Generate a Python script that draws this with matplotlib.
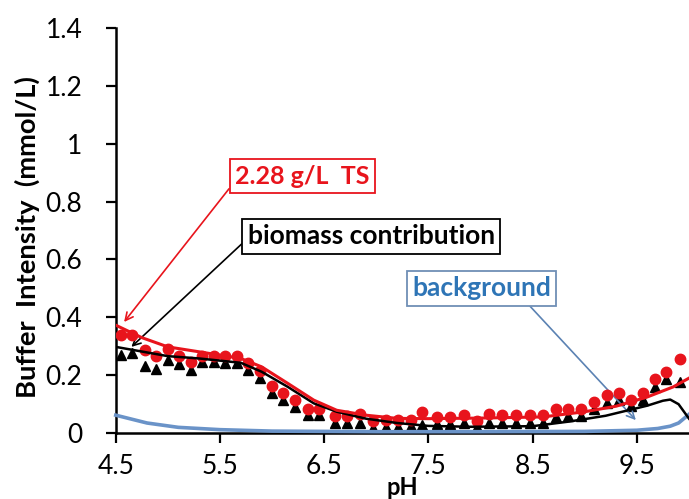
import matplotlib
matplotlib.use("Agg")
import matplotlib.pyplot as plt

# ===== Data =====
ph_pts = [4.55, 4.66, 4.78, 4.89, 5.00, 5.11, 5.22, 5.33, 5.44, 5.55, 5.66, 5.77,
          5.88, 6.00, 6.10, 6.22, 6.34, 6.45, 6.60, 6.72, 6.84, 6.97, 7.09, 7.21,
          7.33, 7.44, 7.58, 7.71, 7.84, 7.97, 8.08, 8.21, 8.34, 8.47, 8.60, 8.72,
          8.84, 8.96, 9.09, 9.21, 9.33, 9.44, 9.56, 9.67, 9.78, 9.91]
ts_meas = [0.340, 0.340, 0.287, 0.267, 0.289, 0.266, 0.245, 0.266, 0.266, 0.266, 0.266, 0.241,
           0.214, 0.162, 0.139, 0.114, 0.085, 0.085, 0.060, 0.060, 0.065, 0.042, 0.045, 0.047,
           0.045, 0.074, 0.056, 0.056, 0.062, 0.042, 0.066, 0.062, 0.062, 0.064, 0.062, 0.082,
           0.085, 0.085, 0.108, 0.131, 0.139, 0.116, 0.137, 0.186, 0.212, 0.255]
bio_meas = [0.270, 0.277, 0.231, 0.223, 0.252, 0.238, 0.218, 0.246, 0.246, 0.244, 0.243, 0.218,
            0.189, 0.139, 0.116, 0.089, 0.062, 0.062, 0.036, 0.036, 0.036, 0.018, 0.020, 0.020,
            0.024, 0.028, 0.031, 0.031, 0.034, 0.020, 0.034, 0.034, 0.034, 0.036, 0.036, 0.056,
            0.058, 0.058, 0.082, 0.103, 0.114, 0.093, 0.114, 0.160, 0.186, 0.177]

ph_ts = [4.5, 4.75, 5.0, 5.3, 5.7, 5.9, 6.15, 6.4, 6.62, 6.9, 7.2, 7.5, 8.0, 8.6,
         9.0, 9.3, 9.6, 9.85, 10.0]
ts_model = [0.373, 0.330, 0.298, 0.281, 0.258, 0.229, 0.172, 0.114, 0.079, 0.062, 0.051,
            0.050, 0.052, 0.056, 0.074, 0.093, 0.125, 0.160, 0.190]

ph_bio = [4.5, 5.0, 5.3, 5.7, 5.9, 6.15, 6.4, 6.62, 6.9, 7.2, 7.5, 7.9, 8.5, 8.85,
          9.2, 9.6, 9.75, 9.82, 9.9, 10.0]
bio_model = [0.298, 0.266, 0.258, 0.243, 0.212, 0.160, 0.103, 0.074, 0.050, 0.035, 0.025,
             0.022, 0.024, 0.040, 0.060, 0.095, 0.112, 0.116, 0.100, 0.050]

ph_bg = [4.5, 4.8, 5.1, 5.5, 6.0, 7.0, 8.0, 9.0, 9.5, 9.7, 9.82, 9.9, 9.95, 10.0]
bg_model = [0.062, 0.035, 0.020, 0.012, 0.007, 0.005, 0.005, 0.006, 0.010, 0.016, 0.024,
            0.035, 0.050, 0.065]

x_ticks = [4.5, 5.5, 6.5, 7.5, 8.5, 9.5]
y_ticks = [0, 0.2, 0.4, 0.6, 0.8, 1.0, 1.2, 1.4]
y_tick_labels = ["0", "0.2", "0.4", "0.6", "0.8", "1", "1.2", "1.4"]

RED = "#e8141c"
BLUE_LINE = "#6a93c8"
BLUE_TEXT = "#2e75b6"

plt.rcParams['font.family'] = ['Lato', 'DejaVu Sans']

fig = plt.figure(figsize=(6.89, 4.99), dpi=100)
ax = fig.add_axes([0.168, 0.132, 0.832, 0.812])

# measured points
ax.plot(ph_pts, bio_meas, linestyle='none', marker='^', ms=7.5, color='black', zorder=3)
ax.plot(ph_pts, ts_meas, linestyle='none', marker='o', ms=7.5, color=RED, zorder=4)

# model lines
ax.plot(ph_bg, bg_model, color=BLUE_LINE, lw=2.6, zorder=5, clip_on=False)
ax.plot(ph_bio, bio_model, color='black', lw=1.8, zorder=5)
ax.plot(ph_ts, ts_model, color=RED, lw=2.2, zorder=5)

ax.set_xlim(4.5, 10.0)
ax.set_ylim(0, 1.4)
ax.set_xticks(x_ticks)
ax.set_xticklabels([f"{t:.1f}" for t in x_ticks])
ax.set_yticks(y_ticks)
ax.set_yticklabels(y_tick_labels)

for side in ['top', 'right']:
    ax.spines[side].set_visible(False)
for side in ['left', 'bottom']:
    ax.spines[side].set_linewidth(1.8)
ax.tick_params(axis='both', direction='out', length=7, width=1.6, labelsize=19)
ax.tick_params(axis='y', pad=17)
ax.tick_params(axis='x', pad=8)

ax.set_xlabel("pH", fontsize=17, fontweight='bold')
ax.set_ylabel("Buffer  Intensity  (mmol/L)", fontsize=19.7, fontweight='bold')
ax.xaxis.set_label_coords(0.5, -0.106)
ax.yaxis.set_label_coords(-0.132, 0.484)

# annotations
ax.annotate("2.28 g/L  TS", xy=(4.58, 0.384), xytext=(6.29, 0.887),
            ha='center', va='center', fontsize=18, fontweight='bold', color=RED,
            bbox=dict(boxstyle='square,pad=0.22', fc='white', ec=RED, lw=1.3),
            arrowprops=dict(arrowstyle='->', color=RED, lw=1.2, relpos=(0.0, 0.3),
                            shrinkA=0, shrinkB=0, mutation_scale=14))
ax.annotate("biomass contribution", xy=(4.65, 0.298), xytext=(6.95, 0.68),
            ha='center', va='center', fontsize=19, fontweight='bold', color='black',
            bbox=dict(boxstyle='square,pad=0.2', fc='white', ec='black', lw=1.3),
            arrowprops=dict(arrowstyle='->', color='black', lw=1.2, relpos=(0.0, 0.41),
                            shrinkA=0, shrinkB=0, mutation_scale=14))
ax.annotate("background", xy=(9.49, 0.045), xytext=(8.01, 0.5),
            ha='center', va='center', fontsize=19, fontweight='bold', color=BLUE_TEXT,
            bbox=dict(boxstyle='square,pad=0.2', fc='white', ec='#6f8fb5', lw=1.3),
            arrowprops=dict(arrowstyle='->', color='#5b82b3', lw=1.2, relpos=(0.81, 0.0),
                            shrinkA=0, shrinkB=0, mutation_scale=14))

fig.savefig("out.png", dpi=100)
